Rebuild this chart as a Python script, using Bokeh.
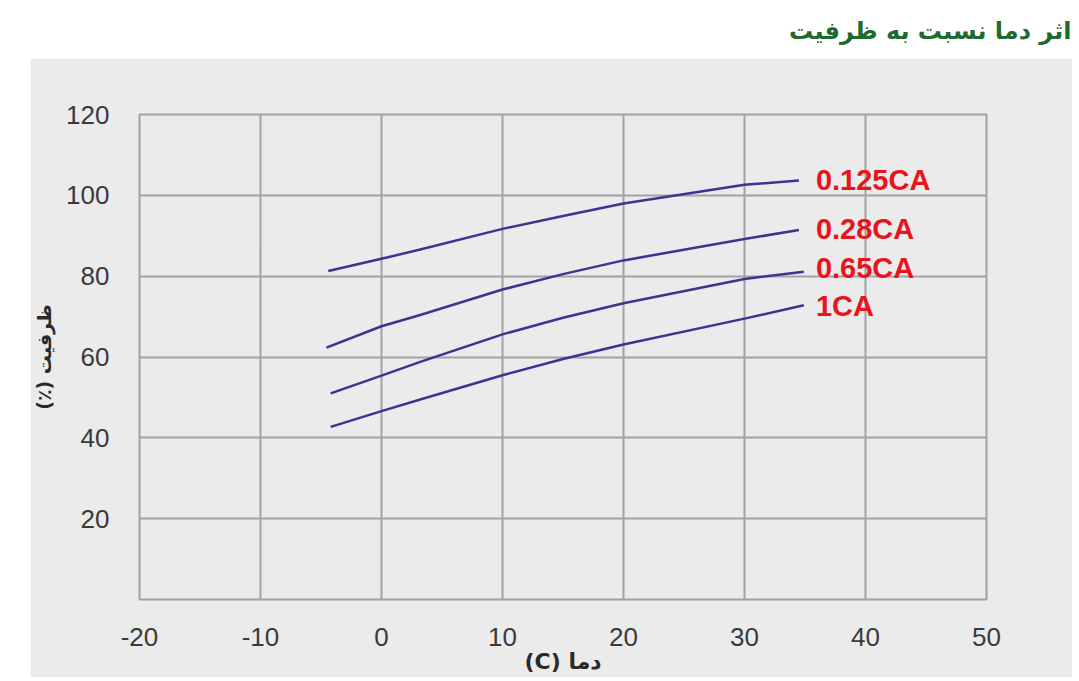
from bokeh.plotting import figure
from bokeh.models import Range1d, FixedTicker, Spacer
from bokeh.layouts import column, row
from bokeh.core.properties import value
from bokeh.embed import file_html
from bokeh.resources import INLINE

# ---- data ----
title_text = "اثر دما نسبت به ظرفیت"
x_title = "(C) دما"
y_title = "(٪) ظرفیت"

series_names = ["0.125CA", "0.28CA", "0.65CA", "1CA"]
temp_0125 = [-4.4, 0, 3.2, 10, 15, 20, 30, 34.5]
cap_0125 = [81.3, 84.3, 86.6, 91.7, 94.9, 98.0, 102.6, 103.7]
temp_028 = [-4.55, 0, 3.2, 10, 15, 20, 30, 34.5]
cap_028 = [62.3, 67.6, 70.4, 76.7, 80.5, 83.9, 89.2, 91.4]
temp_065 = [-4.2, 0, 3.2, 10, 15, 20, 30, 34.9]
cap_065 = [51.0, 55.4, 58.8, 65.6, 69.7, 73.3, 79.3, 81.1]
temp_1 = [-4.2, 0, 3.2, 10, 15, 20, 30, 34.9]
cap_1 = [42.7, 46.6, 49.5, 55.5, 59.5, 63.1, 69.5, 72.8]

label_x = [35.9, 35.9, 35.9, 35.9]
label_y = [103.9, 91.6, 82.1, 72.7]

x_ticks = [-20, -10, 0, 10, 20, 30, 40, 50]
y_ticks = [20, 40, 60, 80, 100, 120]

PANEL = "#ebebeb"
GRID = "#a2a2a2"
LINE = "#3a3590"
RED = "#e8141c"
GREEN = "#1e6a30"

# ---- title strip ----
tf = figure(width=1072, height=58, x_range=Range1d(0, 1072), y_range=Range1d(0, 58),
            output_backend="svg", toolbar_location=None,
            x_axis_location=None, y_axis_location=None, min_border=0)
tf.grid.visible = False
tf.outline_line_color = None
tf.background_fill_color = "white"
tf.border_fill_color = "white"
tf.text(x=[1071], y=[28], text=[title_text], text_font=value("DejaVu Sans"),
        text_font_style="bold", text_font_size="24px", text_color=GREEN,
        text_align="right", text_baseline="middle")

# ---- main chart ----
p = figure(width=1042, height=619, x_range=Range1d(-20, 50), y_range=Range1d(0, 120),
           output_backend="svg", toolbar_location=None,
           min_border_left=109, min_border_right=86, min_border_top=56, min_border_bottom=78)
p.background_fill_color = PANEL
p.border_fill_color = PANEL
p.outline_line_color = GRID
p.outline_line_width = 2

for ax in (p.xaxis[0], p.yaxis[0]):
    ax.axis_line_color = None
    ax.major_tick_line_color = None
    ax.minor_tick_line_color = None
    ax.major_label_text_font = "Liberation Sans"
    ax.major_label_text_font_size = "26px"
    ax.major_label_text_color = "#3a3a3a"
    ax.axis_label_text_font = "DejaVu Sans"
    ax.axis_label_text_font_style = "bold"
    ax.axis_label_text_color = "#2a2a2a"

p.xaxis.ticker = FixedTicker(ticks=x_ticks)
p.yaxis.ticker = FixedTicker(ticks=y_ticks)
p.xaxis.major_label_overrides = {t: str(t) for t in x_ticks}
p.xaxis.major_label_standoff = 22
p.yaxis.major_label_standoff = 24
p.xaxis.axis_label = x_title
p.yaxis.axis_label = y_title
p.xaxis.axis_label_text_font_size = "22px"
p.yaxis.axis_label_text_font_size = "19px"
p.xaxis.axis_label_standoff = 0
p.yaxis.axis_label_standoff = 8

p.xgrid.ticker = FixedTicker(ticks=x_ticks)
p.ygrid.ticker = FixedTicker(ticks=y_ticks)
p.grid.grid_line_color = GRID
p.grid.grid_line_width = 2

for xs, ys in [(temp_0125, cap_0125), (temp_028, cap_028), (temp_065, cap_065), (temp_1, cap_1)]:
    p.line(xs, ys, line_color=LINE, line_width=2.5, line_join="round")

p.text(x=label_x, y=label_y, text=series_names, text_font=value("Liberation Sans"),
       text_font_style="bold", text_font_size="29px", text_color=RED,
       text_align="left", text_baseline="middle")

layout = column(tf, row(Spacer(width=30, height=619), p))

open("out.html", "w").write(file_html(layout, INLINE))
